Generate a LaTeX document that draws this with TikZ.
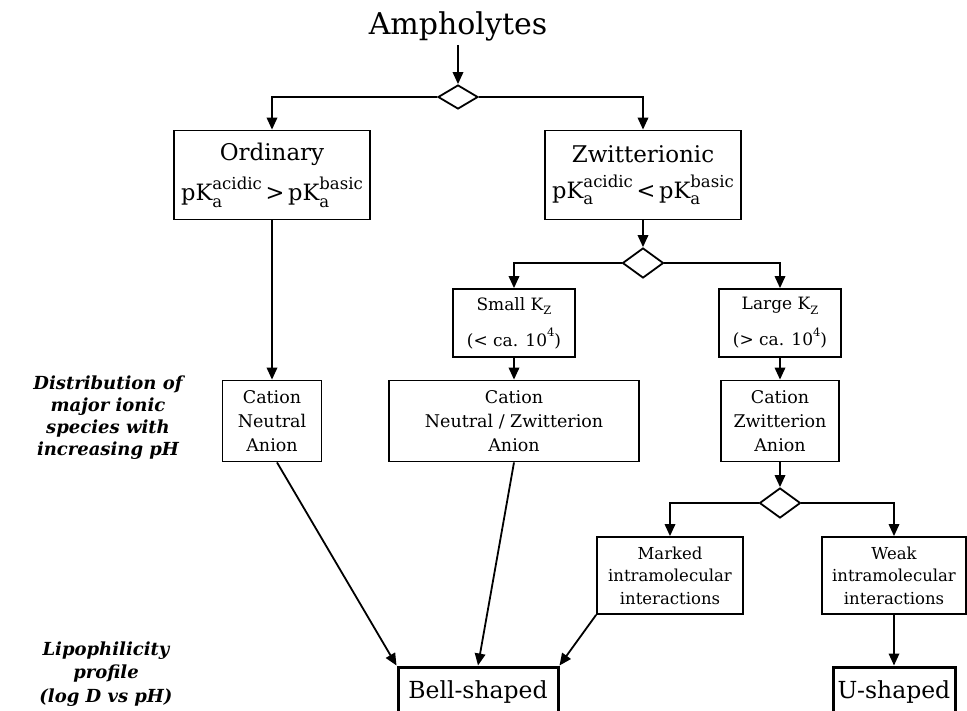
\documentclass[tikz,border=0pt]{standalone}
\usepackage{fontspec}
\setmainfont{DejaVu Serif}
\usetikzlibrary{arrows.meta,shapes.geometric,calc}
\newcommand{\pka}[2]{pK\rlap{\raisebox{-0.28em}{\fontsize{#2}{#2}\selectfont a}}\raisebox{0.5em}{\fontsize{#2}{#2}\selectfont #1}}
\begin{document}
\begin{tikzpicture}[x=1pt,y=-1pt,
  every node/.style={inner sep=0pt},
  bx/.style={draw,line width=1.8pt,align=center},
  thk/.style={draw,line width=3pt,align=center},
  dia/.style={draw,diamond,line width=1.8pt,minimum width=41pt,minimum height=30pt},
  arr/.style={line width=1.8pt,-{Triangle[length=12pt,width=10.5pt]}},
  lab/.style={font=\fontsize{18}{22}\selectfont\bfseries\itshape,align=center},
  big/.style={font=\fontsize{17.5}{24}\selectfont},
  mid/.style={font=\fontsize{16.5}{22.5}\selectfont},
  kz/.style={font=\fontsize{17}{17}\selectfont},
]
\useasboundingbox (0,0) rectangle (967,710);
\clip (0,0) rectangle (967,710);

\node[font=\fontsize{30}{30}\selectfont,anchor=base] (amph) at (458,34) {Ampholytes};
\node[dia,minimum width=40pt,minimum height=24pt] (d1) at (458,97) {};

\node[bx,minimum width=196pt,minimum height=89pt] (ord) at (272,175)
  {{\fontsize{23}{23}\selectfont Ordinary}\\[11pt]{\fontsize{22.5}{22.5}\selectfont\pka{acidic}{16.5}\,>\,\pka{basic}{16.5}}};
\node[bx,minimum width=196pt,minimum height=89pt] (zw) at (643,175)
  {{\fontsize{23}{23}\selectfont Zwitterionic}\\[11pt]{\fontsize{22.5}{22.5}\selectfont\pka{acidic}{16.5}\,<\,\pka{basic}{16.5}}};

\node[dia] (d2) at (643,263) {};
\node[bx,kz,minimum width=122pt,minimum height=68pt] (sk) at (514,323)
  {\raisebox{-3pt}{Small K\raisebox{-0.25em}{\fontsize{11.5}{11.5}\selectfont Z}}\\[13pt]\raisebox{-3pt}{(< ca. 10\raisebox{0.55em}{\fontsize{11.5}{11.5}\selectfont 4})}};
\node[bx,kz,minimum width=122pt,minimum height=68pt] (lk) at (780,323)
  {\raisebox{-3pt}{Large K\raisebox{-0.25em}{\fontsize{11.5}{11.5}\selectfont Z}}\\[13pt]\raisebox{-3pt}{(> ca. 10\raisebox{0.55em}{\fontsize{11.5}{11.5}\selectfont 4})}};

\node[bx,big,minimum width=99pt,minimum height=81pt] (cna) at (272,421) {Cation\\Neutral\\Anion};
\node[bx,big,minimum width=250pt,minimum height=81pt] (nza) at (514,421) {Cation\\Neutral / Zwitterion\\Anion};
\node[bx,big,minimum width=118pt,minimum height=81pt] (cza) at (780,421) {Cation\\Zwitterion\\Anion};

\node[dia] (d3) at (780,503) {};
\node[bx,mid,minimum width=146pt,minimum height=77pt] (mk) at (670,575.5) {Marked\\intramolecular\\interactions};
\node[bx,mid,minimum width=144pt,minimum height=77pt] (wk) at (894,575.5) {Weak\\intramolecular\\interactions};

\node[thk,minimum width=160pt,minimum height=50pt,font=\fontsize{23.5}{23.5}\selectfont] (bell) at (478,692) {\raisebox{5pt}{Bell-shaped}};
\node[thk,minimum width=122pt,minimum height=50pt,font=\fontsize{23.5}{23.5}\selectfont] (ush) at (894,692) {\raisebox{5pt}{U-shaped}};

\node[lab] (dist) at (108,418) {Distribution of\\major ionic\\species with\\increasing pH};
\node[lab,font=\fontsize{18}{23.5}\selectfont\bfseries\itshape] (lipo) at (106,674) {Lipophilicity\\profile\\(log D vs pH)};

\draw[arr,shorten <=4pt] (amph.south) -- (d1.north);
\draw[arr] (d1.west) -| (ord.north);
\draw[arr] (d1.east) -| (zw.north);
\draw[arr] (ord.south) -- (cna.north);
\draw[arr] (zw.south) -- (d2.north);
\draw[arr] (d2.west) -| (sk.north);
\draw[arr] (d2.east) -| (lk.north);
\draw[arr] (sk.south) -- (nza.north);
\draw[arr] (lk.south) -- (cza.north);
\draw[arr] (cza.south) -- (d3.north);
\draw[arr] (d3.west) -| (mk.north);
\draw[arr] (d3.east) -| (wk.north);
\draw[arr] ($(cna.south)+(5,0)$) -- (bell.north west);
\draw[arr] (nza.south) -- (bell.north);
\draw[arr] (mk.south west) -- (bell.north east);
\draw[arr] (wk.south) -- (ush.north);
\end{tikzpicture}
\end{document}
